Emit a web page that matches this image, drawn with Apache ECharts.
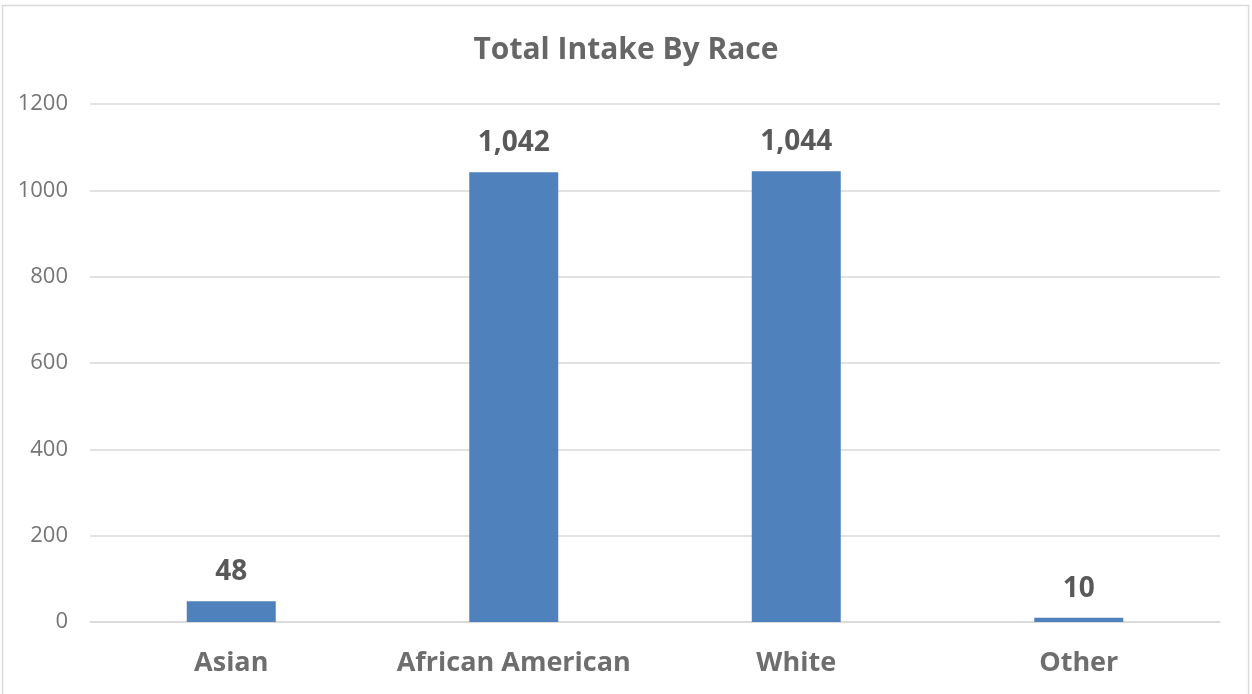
<!DOCTYPE html>
<html>
<head>
<meta charset="utf-8">
<script src="https://cdn.jsdelivr.net/npm/echarts@6/dist/echarts.min.js"></script>
<style>
  html, body { margin: 0; padding: 0; background: #fff; }
  #chart { width: 1252px; height: 694px; }
</style>
</head>
<body>
<div id="chart"></div>
<script>
// Intake totals grouped by race
const categories = ['Asian', 'African American', 'White', 'Other'];
const intakeTotals = [48, 1042, 1044, 10];
const yTicks = [0, 200, 400, 600, 800, 1000, 1200];

const chart = echarts.init(document.getElementById('chart'), null, { renderer: 'canvas' });
const fontFamily = '"Open Sans", Lato, "Liberation Sans", sans-serif';

chart.setOption({
  animation: false,
  backgroundColor: '#ffffff',
  title: {
    text: 'Total Intake By Race',
    left: 'center',
    top: 30,
    textStyle: { fontFamily, fontSize: 30, fontWeight: 'bold', color: '#666666' }
  },
  graphic: [{
    type: 'rect',
    shape: { x: 2.5, y: 5.5, width: 1246, height: 700 },
    style: { fill: 'none', stroke: '#d9d9d9', lineWidth: 1.5 },
    silent: true
  }],
  grid: { left: 90, right: 32, top: 104, bottom: 72 },
  xAxis: {
    type: 'category',
    data: categories,
    axisLine: { show: true, lineStyle: { color: '#d9d9d9', width: 1.5 } },
    axisTick: { show: false },
    axisLabel: {
      interval: 0,
      hideOverlap: false,
      fontFamily, fontSize: 27, fontWeight: 'bold', color: '#6e6e6e', margin: 28
    }
  },
  yAxis: {
    type: 'value',
    min: yTicks[0],
    max: yTicks[yTicks.length - 1],
    interval: yTicks[1] - yTicks[0],
    axisLine: { show: false },
    axisTick: { show: false },
    splitLine: { lineStyle: { color: '#d9d9d9', width: 1.5 } },
    axisLabel: { fontFamily, fontSize: 22, color: '#757575', margin: 22, formatter: v => String(v) }
  },
  series: [{
    type: 'bar',
    data: intakeTotals,
    barWidth: '31.5%',
    itemStyle: { color: '#4f81bd' },
    label: {
      show: true,
      position: 'top',
      distance: 15,
      fontFamily,
      fontSize: 28,
      fontWeight: 'bold',
      color: '#595959',
      formatter: p => p.value.toLocaleString('en-US')
    }
  }]
});
</script>
</body>
</html>
